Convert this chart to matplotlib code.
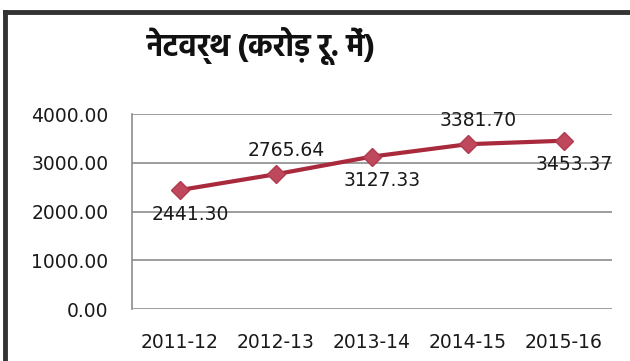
import matplotlib
matplotlib.use("Agg")
import matplotlib.pyplot as plt
from matplotlib.lines import Line2D

years = ['2011-12', '2012-13', '2013-14', '2014-15', '2015-16']
networth = [2441.30, 2765.64, 3127.33, 3381.70, 3453.37]
label_pos = ['below', 'above', 'below', 'above', 'below']
yticks = [0, 1000, 2000, 3000, 4000]

fig = plt.figure(figsize=(6.3, 3.61), dpi=100, facecolor='white')
ax = fig.add_axes([0.2095, 0.144, 0.7615, 0.540])

for y in yticks:
    ax.axhline(y, color='#8c8c8c', lw=1.2, zorder=1)
ax.plot(range(len(years)), networth, color='#a82a3c', lw=3, marker='D', ms=9,
        mfc='#c0485c', mec='#b03a4e', zorder=3)

for i, v in enumerate(networth):
    dy = 24 if label_pos[i] == 'above' else -24
    ax.annotate('%.2f' % v, (i, v), xytext=(10, dy), textcoords='offset pixels',
                ha='center', va='center', fontsize=13.5, color='#1a1a1a',
                family='DejaVu Sans')

ax.set_xlim(-0.5, len(years) - 0.5)
ax.set_ylim(0, 4000)
ax.set_xticks(range(len(years)))
ax.set_xticklabels(years)
ax.set_yticks(yticks)
ax.set_yticklabels(['%.2f' % t for t in yticks])
ax.tick_params(length=0, labelsize=13.5, colors='#1a1a1a')
ax.tick_params(axis='x', pad=17)
ax.tick_params(axis='y', pad=17)
for s in ['top', 'right', 'bottom']:
    ax.spines[s].set_visible(False)
ax.spines['left'].set_color('#8c8c8c')
ax.spines['left'].set_linewidth(1.2)

fig.text(0.415, 0.872, 'नेटवर्थ (करोड़ रू. में)', ha='center', va='center',
         fontsize=22, fontweight='bold', family=['Hind', 'Noto Sans Devanagari', 'DejaVu Sans'],
         color='#111111')

# outer frame: left and top edges only
fig.add_artist(Line2D([0.008, 0.008], [0, 0.968], transform=fig.transFigure,
                      color='#333333', lw=3.5))
fig.add_artist(Line2D([0.008, 1.0], [0.967, 0.967], transform=fig.transFigure,
                      color='#333333', lw=3.5))

fig.savefig('out.png', dpi=100, facecolor='white')
